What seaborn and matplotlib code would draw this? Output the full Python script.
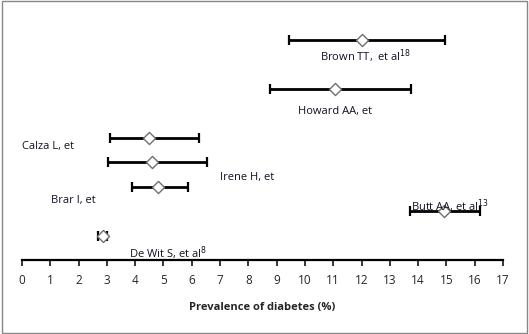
import matplotlib
matplotlib.use("Agg")
import matplotlib.pyplot as plt
import seaborn as sns
import pandas as pd
from matplotlib.patches import Rectangle

studies = ["Brown TT,  et al", "Howard AA, et", "Calza L, et", "Irene H, et",
           "Brar I, et", "Butt AA, et al", "De Wit S, et al"]
superscripts = ["18", "", "", "", "", "13", "8"]
prevalence = [12.0, 11.05, 4.5, 4.6, 4.8, 14.9, 2.85]
ci_low = [9.45, 8.75, 3.1, 3.05, 3.9, 13.7, 2.7]
ci_high = [14.95, 13.75, 6.25, 6.55, 5.85, 16.2, 3.0]
row = [9, 7, 5, 4, 3, 2, 1]
xticks = list(range(0, 18))

df = pd.DataFrame({"study": studies, "prev": prevalence, "lo": ci_low,
                   "hi": ci_high, "row": row})

sns.set_style("white")
plt.rcParams["font.family"] = ["Open Sans", "DejaVu Sans"]

fig = plt.figure(figsize=(5.29, 3.34), dpi=100)
ax = fig.add_axes([22/529, 1-260/334, (503-22)/529, 244/334])

ax.errorbar(df["prev"], df["row"],
            xerr=[df["prev"] - df["lo"], df["hi"] - df["prev"]],
            fmt="none", ecolor="black", elinewidth=2, capsize=3.5, capthick=1.6, zorder=2)
sns.scatterplot(data=df, x="prev", y="row", marker="D", s=38, color="white",
                edgecolor="#707070", linewidth=1.0, ax=ax, zorder=3, legend=False)

# label offsets (pixels) relative to each point, as in the reference
offsets = [(4, -16), (0, -22), (-101, -9), (95, -15), (-84, -14), (6, 5), (65, -18)]
for (name, sup, x, y, off) in zip(studies, superscripts, prevalence, row, offsets):
    label = name + (r"$^{" + sup + "}$" if sup else "")
    ax.annotate(label, (x, y), xytext=off, textcoords="offset pixels",
                ha="center", va="center", fontsize=8, color="#111122")

ax.set_xlim(0, 17)
ax.set_ylim(0, 10)
ax.set_xticks(xticks)
ax.set_yticks([])
for s in ["top", "left", "right"]:
    ax.spines[s].set_visible(False)
ax.spines["bottom"].set_linewidth(1.6)
ax.spines["bottom"].set_color("black")
ax.tick_params(axis="x", direction="out", length=4, width=1.3, labelsize=8.5, pad=6,
               bottom=True)
ax.set_xlabel("Prevalence of diabetes (%)", fontsize=8, fontweight="bold", labelpad=11)
ax.set_ylabel("")
ax.patch.set_alpha(0)

fig.patches.append(Rectangle((0.003, 0.004), 0.994, 0.992, transform=fig.transFigure,
                             fill=False, edgecolor="#888888", linewidth=1))
fig.savefig("out.png", dpi=100)
